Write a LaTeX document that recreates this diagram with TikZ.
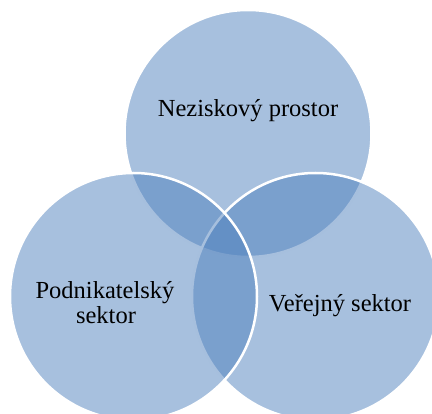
\documentclass[tikz,border=0pt]{standalone}
\usepackage{fontspec}
\setmainfont{Liberation Serif}
\definecolor{accent}{HTML}{4F81BD}
\begin{document}
\begin{tikzpicture}[x=1pt,y=-1pt,
  venn/.style={fill=accent,fill opacity=0.5,draw=white,draw opacity=1,line width=2.5pt},
  lbl/.style={anchor=base,font=\fontsize{24.5}{26}\selectfont,text=black,align=center,inner sep=0pt}]
\useasboundingbox (0,0) rectangle (432,414);
\begin{scope}
\clip (0,0) rectangle (432,414);
\path[venn] (248,133.5) circle[radius=123.5];
\path[venn] (315.5,296.5) circle[radius=123.5];
\path[venn] (133.5,296.5) circle[radius=123.5];
\end{scope}
\node[lbl] (np) at (248,117) {Neziskový prostor};
\node[lbl] (ps1) at (105,299) {Podnikatelský};
\node[lbl] (ps2) at (106,324) {sektor};
\node[lbl] (vs) at (340,312) {Veřejný sektor};
\end{tikzpicture}
\end{document}
